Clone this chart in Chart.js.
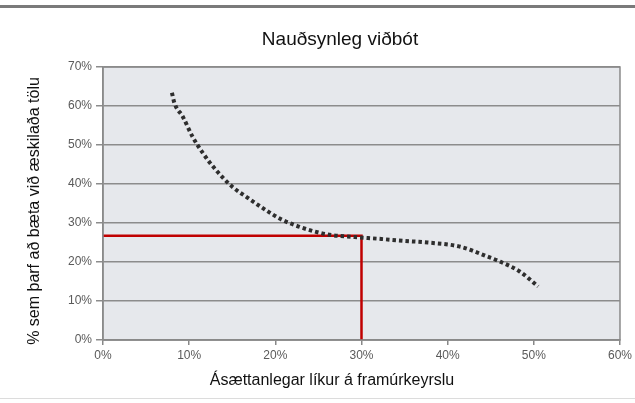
<!DOCTYPE html>
<html><head><meta charset="utf-8">
<script src="https://cdn.jsdelivr.net/npm/chart.js@4/dist/chart.umd.min.js"></script>
<style>html,body{margin:0;padding:0;background:#fff}#wrap{width:635px;height:403px}</style>
</head><body><div id="wrap"><canvas id="c" width="635" height="403"></canvas></div>
<script>
const chartTitle = "Nauðsynleg viðbót";
const xTitle = "Ásættanlegar líkur á framúrkeyrslu";
const yTitle = "% sem þarf að bæta við æskilaða tölu";
const curveX = [8, 8.3, 9.25, 10.4, 11.6, 13.1, 15, 16.9, 18.9, 20.8, 22.7, 24.6, 26.5, 29.2, 32.3, 35, 37.7, 41.5, 44.6, 46.1, 48.4, 50.5];
const curveY = [63.4, 60.7, 57.3, 52.1, 47.9, 43.6, 39.3, 36.3, 33.3, 30.8, 29.1, 27.8, 26.9, 26.4, 25.9, 25.4, 25.0, 23.9, 21.4, 20.1, 17.5, 13.7];
const guideX = [0, 30, 30];
const guideY = [26.7, 26.7, 0];
const xTicks = [0, 10, 20, 30, 40, 50, 60];
const yTicks = [0, 10, 20, 30, 40, 50, 60, 70];

const FONT = "'Liberation Sans', Arial, sans-serif";
const toPts = (xs, ys) => xs.map((x, i) => ({x, y: ys[i]}));

const decor = {
  id: 'decor',
  beforeDraw(chart) {
    const {ctx, chartArea: a} = chart;
    ctx.save();
    ctx.fillStyle = '#e6e8ec';
    ctx.fillRect(a.left, a.top, a.right - a.left, a.bottom - a.top);
    ctx.fillStyle = '#7a7a7a';
    ctx.fillRect(0, 5, 635, 3);
    ctx.fillStyle = '#dcdcdc';
    ctx.fillRect(0, 398, 635, 1);
    ctx.restore();
  },
  afterDraw(chart) {
    const {ctx, chartArea: a} = chart;
    ctx.save();
    ctx.strokeStyle = '#8a8a8a';
    ctx.lineWidth = 1.5;
    ctx.strokeRect(a.left, a.top, a.right - a.left, a.bottom - a.top);
    ctx.fillStyle = '#111';
    ctx.textAlign = 'center';
    ctx.textBaseline = 'middle';
    ctx.font = '19px ' + FONT;
    ctx.fillText(chartTitle, 340, 40);
    ctx.font = '16px ' + FONT;
    ctx.fillText(xTitle, 332, 381);
    ctx.translate(35, 211);
    ctx.rotate(-Math.PI / 2);
    ctx.fillText(yTitle, 0, 0);
    ctx.restore();
  }
};

new Chart(document.getElementById('c'), {
  type: 'line',
  data: {
    datasets: [
      {
        data: toPts(curveX, curveY),
        borderColor: '#2e2e2e',
        borderWidth: 4,
        borderDash: [3.5, 3],
        borderCapStyle: 'butt',
        cubicInterpolationMode: 'monotone',
        pointRadius: 0,
        fill: false
      },
      {
        data: toPts(guideX, guideY),
        borderColor: '#c00000',
        borderWidth: 2.5,
        tension: 0,
        pointRadius: 0,
        fill: false
      }
    ]
  },
  options: {
    responsive: false,
    devicePixelRatio: 1,
    animation: false,
    layout: {padding: {top: 67, right: 13, left: 0, bottom: 0}},
    plugins: {legend: {display: false}, tooltip: {enabled: false}, title: {display: false}},
    scales: {
      x: {
        type: 'linear', min: 0, max: 60,
        afterBuildTicks: s => { s.ticks = xTicks.map(v => ({value: v})); },
        afterFit: s => { s.height = 63; },
        ticks: {callback: v => v + '%', color: '#5a5a5a', font: {family: FONT, size: 12}, padding: 3, maxRotation: 0},
        grid: {drawOnChartArea: false, drawTicks: true, tickLength: 5, color: '#888', lineWidth: 1.5},
        border: {display: true, color: '#888', width: 1.5}
      },
      y: {
        type: 'linear', min: 0, max: 70,
        afterBuildTicks: s => { s.ticks = yTicks.map(v => ({value: v})); },
        afterFit: s => { s.width = 103; },
        ticks: {callback: v => v + '%', color: '#5a5a5a', font: {family: FONT, size: 12}, padding: 4},
        grid: {color: '#8c8c8c', lineWidth: 1.5, tickLength: 7, drawTicks: true},
        border: {display: true, color: '#888', width: 1.5}
      }
    }
  },
  plugins: [decor]
});
</script>
</body></html>
